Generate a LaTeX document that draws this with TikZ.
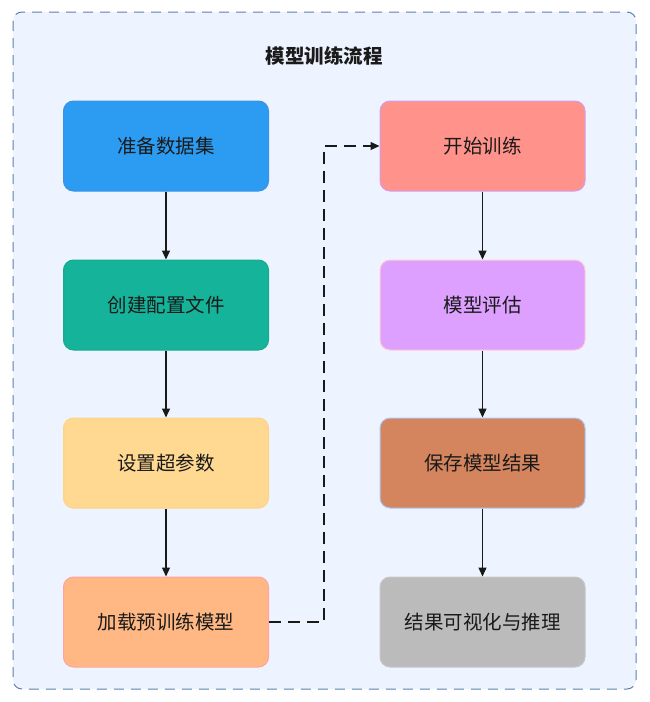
\documentclass[tikz,border=0pt]{standalone}
\usepackage{fontspec}
\setmainfont{Noto Sans CJK SC}
\usetikzlibrary{arrows.meta}
\definecolor{bgfill}{HTML}{EEF4FF}
\definecolor{bgline}{HTML}{5B80B2}
\definecolor{cA}{HTML}{2B9CF2}\definecolor{bA}{HTML}{3A92E6}
\definecolor{cB}{HTML}{14B39A}\definecolor{bB}{HTML}{1AA890}
\definecolor{cC}{HTML}{FFD891}\definecolor{bC}{HTML}{FCD488}
\definecolor{cD}{HTML}{FFB883}\definecolor{bD}{HTML}{FFA2A0}
\definecolor{cE}{HTML}{FF928A}\definecolor{bE}{HTML}{D49CF0}
\definecolor{cF}{HTML}{DDA0FF}\definecolor{bF}{HTML}{FFCCD4}
\definecolor{cG}{HTML}{D5855E}\definecolor{bG}{HTML}{A8C8F8}
\definecolor{cH}{HTML}{BBBBBB}\definecolor{bH}{HTML}{C6C6C6}
\definecolor{txt}{HTML}{1A1A1A}
\tikzset{
  box/.style={rounded corners=10pt, minimum width=205pt, minimum height=90pt, line width=1pt, text=txt, font=\fontsize{19.5}{22}\selectfont, inner sep=0pt},
  arr/.style={line width=1.3pt, black!90, -{Triangle[length=9pt,width=8pt]}},
  darr/.style={line width=1.4pt, black!90, dash pattern=on 12pt off 7pt, -{Triangle[length=9pt,width=8pt]}}
}
\begin{document}
\begin{tikzpicture}[x=1pt,y=-1pt]
\useasboundingbox (0,0) rectangle (650,702);
\draw[bgline, fill=bgfill, line width=1pt, dash pattern=on 10pt off 7pt, rounded corners=9pt] (13,12) rectangle (636,689);
\node[font=\fontsize{19.5}{22}\selectfont\bfseries, text=txt] (title) at (324,56) {模型训练流程};
\node[box, fill=cA, draw=bA] (n1) at (166,146) {准备数据集};
\node[box, fill=cB, draw=bB] (n2) at (166,305) {创建配置文件};
\node[box, fill=cC, draw=bC] (n3) at (166,463) {设置超参数};
\node[box, fill=cD, draw=bD] (n4) at (166,622) {加载预训练模型};
\node[box, fill=cE, draw=bE] (n5) at (482.5,146) {开始训练};
\node[box, fill=cF, draw=bF] (n6) at (482.5,305) {模型评估};
\node[box, fill=cG, draw=bG] (n7) at (482.5,463) {保存模型结果};
\node[box, fill=cH, draw=bH] (n8) at (482.5,622) {结果可视化与推理};
\draw[arr] (n1) -- (n2);
\draw[arr] (n2) -- (n3);
\draw[arr] (n3) -- (n4);
\draw[arr] (n5) -- (n6);
\draw[arr] (n6) -- (n7);
\draw[arr] (n7) -- (n8);
\coordinate (k1) at (324,622);
\coordinate (k2) at (324,146);
\draw[darr] (n4.east) -- (k1) -- (k2) -- (n5.west);
\end{tikzpicture}
\end{document}
